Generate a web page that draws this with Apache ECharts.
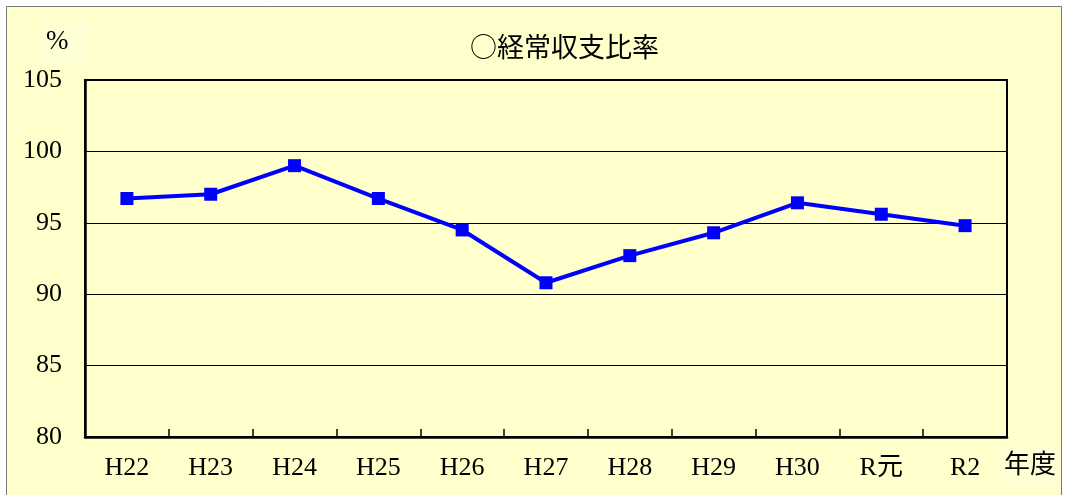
<!DOCTYPE html>
<html>
<head>
<meta charset="utf-8">
<script src="https://cdn.jsdelivr.net/npm/echarts@6/dist/echarts.min.js"></script>
<style>
  html, body { margin: 0; padding: 0; background: #ffffff; }
  #chart { width: 1066px; height: 495px; }
</style>
</head>
<body>
<div id="chart"></div>
<script>
  // 年度と経常収支比率(%)
  const years = ['H22', 'H23', 'H24', 'H25', 'H26', 'H27', 'H28', 'H29', 'H30', 'R元', 'R2'];
  const ratio = [96.7, 97.0, 99.0, 96.7, 94.5, 90.8, 92.7, 94.3, 96.4, 95.6, 94.8];

  const font = '"Liberation Serif", "Noto Sans CJK JP", serif';
  const cjkFont = '"Noto Sans CJK JP", sans-serif';
  const chart = echarts.init(document.getElementById('chart'));

  const option = {
    backgroundColor: '#ffffff',
    animation: false,
    title: {
      text: '○経常収支比率',
      left: 465,
      top: 28,
      textStyle: { fontFamily: cjkFont, fontSize: 27, fontWeight: 'normal', color: '#000' }
    },
    graphic: [
      {
        type: 'rect', z: -10,
        shape: { x: 6.5, y: 6.5, width: 1055, height: 495 },
        style: { fill: '#ffffcc', stroke: '#777', lineWidth: 1 }
      },
      {
        type: 'rect', z: -5,
        shape: { x: 39, y: 22, width: 50, height: 41 },
        style: { fill: '#ffffd6' }
      },
      {
        type: 'text', left: 46, top: 28,
        style: { text: '%', font: '27px ' + font, fill: '#000' }
      },
      {
        type: 'rect', z: -5,
        shape: { x: 1001, y: 447, width: 58, height: 40 },
        style: { fill: '#ffffd6' }
      },
      {
        type: 'text', left: 1004, top: 453,
        style: { text: '年度', font: '26px ' + font, fill: '#000' }
      }
    ],
    grid: {
      left: 85, right: 59, top: 80, bottom: 58,
      show: true, borderColor: '#000', borderWidth: 2, backgroundColor: 'transparent'
    },
    xAxis: {
      type: 'category',
      data: years,
      boundaryGap: true,
      axisLine: { lineStyle: { color: '#000', width: 2.5 } },
      axisTick: { show: true, inside: true, length: 8, lineStyle: { color: '#000', width: 1.5 } },
      axisLabel: { fontFamily: font, fontSize: 26, color: '#000', margin: 18 }
    },
    yAxis: {
      type: 'value',
      min: 80, max: 105, interval: 5,
      axisLine: { show: true, lineStyle: { color: '#000', width: 2.5 } },
      axisTick: { show: false },
      axisLabel: { fontFamily: font, fontSize: 26, color: '#000', margin: 23 },
      splitLine: { lineStyle: { color: '#000', width: 1 } }
    },
    series: [
      {
        type: 'line',
        data: ratio,
        symbol: 'rect',
        symbolSize: 13,
        lineStyle: { color: '#0000ff', width: 4 },
        itemStyle: { color: '#0000ff' }
      }
    ]
  };

  chart.setOption(option);
</script>
</body>
</html>
